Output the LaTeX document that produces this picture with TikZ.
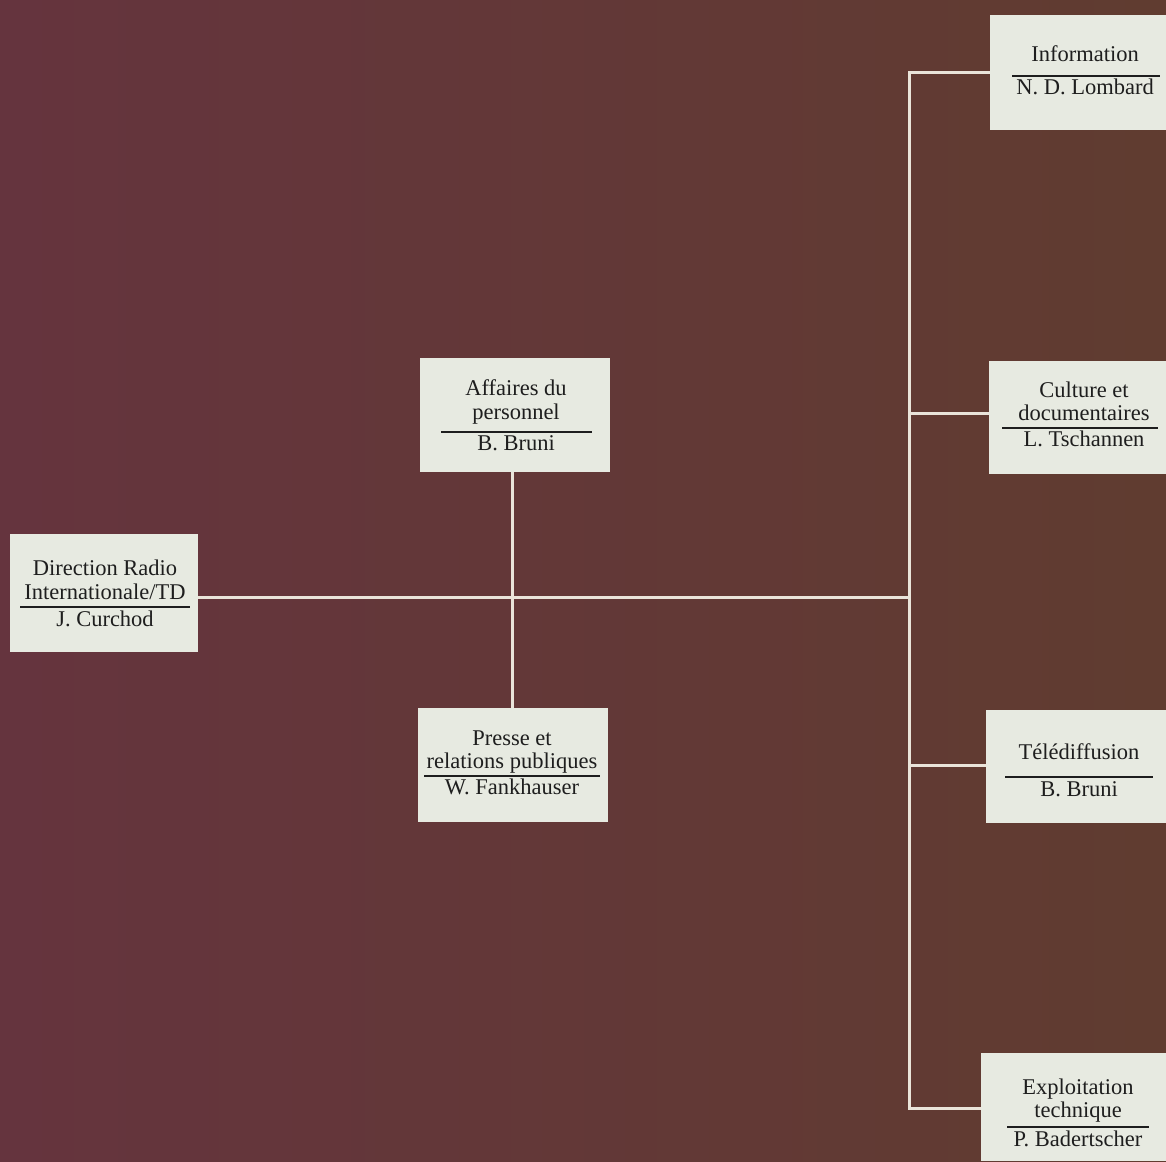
\documentclass[tikz,border=0pt]{standalone}
\usepackage{fontspec}
\setmainfont{Liberation Serif}
\definecolor{bgL}{RGB}{101,52,62}
\definecolor{bgR}{RGB}{96,60,48}
\definecolor{boxfill}{RGB}{231,234,225}
\definecolor{linecol}{RGB}{234,228,218}
\definecolor{txtcol}{RGB}{30,30,30}
\tikzset{
  orgbox/.style={fill=boxfill, draw=none, inner sep=0pt, rectangle},
  lbl/.style={font=\fontsize{22.5}{24}\selectfont, text=txtcol, anchor=base, inner sep=0pt},
  sepline/.style={draw=txtcol, line width=1.3pt},
  conn/.style={draw=linecol, line width=3pt, line join=miter}
}
\begin{document}
\begin{tikzpicture}[x=1pt,y=-1pt]
\useasboundingbox (0,0) rectangle (1166,1161);
\shade[left color=bgL, right color=bgR] (0,0) rectangle (1166,1161);

% boxes
\node[orgbox, minimum width=188, minimum height=118] (dir) at (104,593) {};
\node[orgbox, minimum width=190, minimum height=114] (aff) at (515,415) {};
\node[orgbox, minimum width=190, minimum height=114] (pre) at (513,765) {};
\node[orgbox, minimum width=176, minimum height=115] (info) at (1078,72.5) {};
\node[orgbox, minimum width=177, minimum height=113] (cult) at (1077.5,417.5) {};
\node[orgbox, minimum width=180, minimum height=113] (tele) at (1076,766.5) {};
\node[orgbox, minimum width=185, minimum height=108] (expl) at (1073.5,1107) {};

% texts
\node[lbl] (dir1) at (105,575) {Direction Radio};
\node[lbl] (dir2) at (105,599) {Internationale/TD};
\node[lbl] (dirN) at (105,626) {J. Curchod};
\draw[sepline] (20,607) -- (190,607);

\node[lbl] (aff1) at (516,395) {Affaires du};
\node[lbl] (aff2) at (516,419) {personnel};
\node[lbl] (affN) at (516,450) {B. Bruni};
\draw[sepline] (441,432) -- (592,432);

\node[lbl] (pre1) at (512,745) {Presse et};
\node[lbl] (pre2) at (512,768) {relations publiques};
\node[lbl] (preN) at (512,794) {W. Fankhauser};
\draw[sepline] (424,776) -- (600,776);

\node[lbl] (info1) at (1085,62) {Information};
\node[lbl] (infoN) at (1085,95) {N. D. Lombard};
\draw[sepline] (1012,76) -- (1160,76);

\node[lbl] (cult1) at (1084,397) {Culture et};
\node[lbl] (cult2) at (1084,420) {documentaires};
\node[lbl] (cultN) at (1084,446) {L. Tschannen};
\draw[sepline] (1002,428) -- (1158,428);

\node[lbl] (tele1) at (1079,759) {Télédiffusion};
\node[lbl] (teleN) at (1079,796) {B. Bruni};
\draw[sepline] (1005,777) -- (1153,777);

\node[lbl] (expl1) at (1078,1094) {Exploitation};
\node[lbl] (expl2) at (1078,1117) {technique};
\node[lbl] (explN) at (1078,1146) {P. Badertscher};
\draw[sepline] (1007,1127) -- (1149,1127);

% connectors
\coordinate (tTop) at (909,73);
\coordinate (tC) at (909,413);
\coordinate (tMid) at (909,597);
\coordinate (tT) at (909,765);
\coordinate (tBot) at (909,1108);
\coordinate (vx) at (512,597);

\draw[conn] (dir.east |- tMid) -- (tMid);
\draw[conn] (aff.south -| vx) -- (pre.north -| vx);
\draw[conn] (info.west |- tTop) -- (tTop) -- (tBot) -- (expl.west |- tBot);
\draw[conn] (tC) -- (cult.west |- tC);
\draw[conn] (tT) -- (tele.west |- tT);
\end{tikzpicture}
\end{document}
